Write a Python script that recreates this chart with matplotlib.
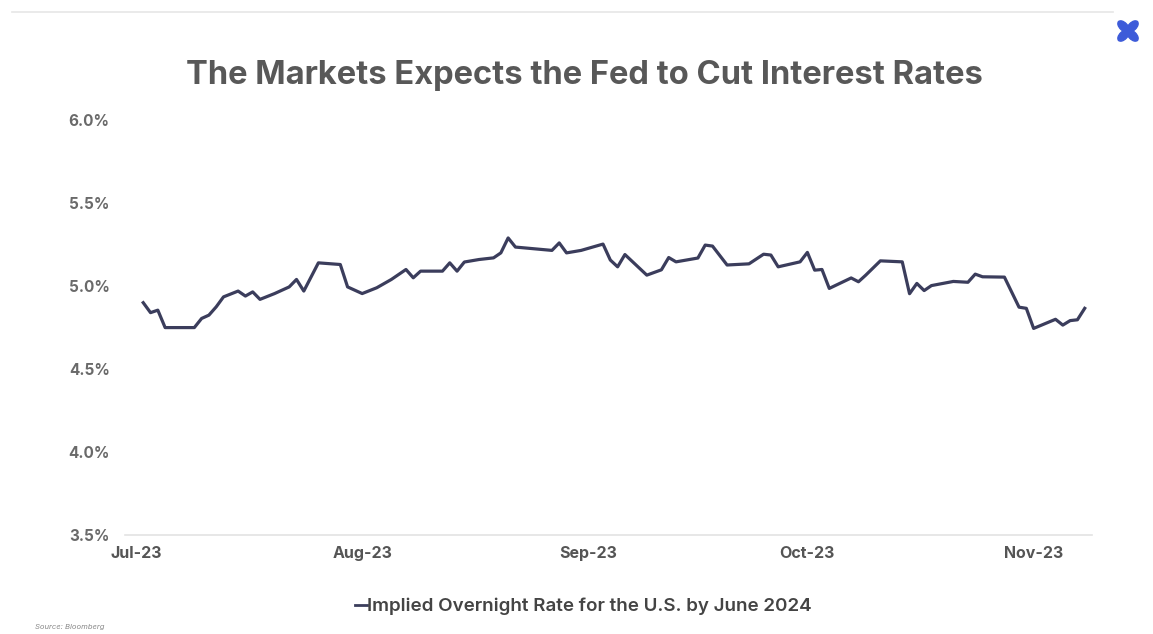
import numpy as np
import pandas as pd
import matplotlib.pyplot as plt
import matplotlib.dates as mdates
from matplotlib.patches import Ellipse
from matplotlib.lines import Line2D

# Implied overnight rate (%)
dates = [
    '2023-07-02', '2023-07-03', '2023-07-04', '2023-07-05', '2023-07-09',
    '2023-07-10', '2023-07-11', '2023-07-12', '2023-07-13', '2023-07-15',
    '2023-07-16', '2023-07-17', '2023-07-18', '2023-07-20', '2023-07-22',
    '2023-07-23', '2023-07-24', '2023-07-26', '2023-07-29', '2023-07-30',
    '2023-08-01', '2023-08-03', '2023-08-05', '2023-08-07', '2023-08-08',
    '2023-08-09', '2023-08-12', '2023-08-13', '2023-08-14', '2023-08-15',
    '2023-08-17', '2023-08-19', '2023-08-20', '2023-08-21', '2023-08-22',
    '2023-08-27', '2023-08-28', '2023-08-29', '2023-08-31', '2023-09-03',
    '2023-09-04', '2023-09-05', '2023-09-06', '2023-09-09', '2023-09-11',
    '2023-09-12', '2023-09-13', '2023-09-16', '2023-09-17', '2023-09-18',
    '2023-09-20', '2023-09-23', '2023-09-25', '2023-09-26', '2023-09-27',
    '2023-09-30', '2023-10-01', '2023-10-02', '2023-10-03', '2023-10-04',
    '2023-10-07', '2023-10-08', '2023-10-09', '2023-10-11', '2023-10-14',
    '2023-10-15', '2023-10-16', '2023-10-17', '2023-10-18', '2023-10-21',
    '2023-10-23', '2023-10-24', '2023-10-25', '2023-10-28', '2023-10-30',
    '2023-10-31', '2023-11-01', '2023-11-04', '2023-11-05', '2023-11-06',
    '2023-11-07', '2023-11-08',
]
rates = [
    4.90, 4.84, 4.855, 4.75, 4.75,
    4.805, 4.825, 4.875, 4.935, 4.97,
    4.94, 4.965, 4.92, 4.955, 4.995,
    5.04, 4.97, 5.14, 5.13, 4.995,
    4.955, 4.99, 5.04, 5.10, 5.05,
    5.09, 5.09, 5.14, 5.09, 5.145,
    5.16, 5.17, 5.20, 5.29, 5.235,
    5.215, 5.26, 5.20, 5.215, 5.253,
    5.157, 5.116, 5.19, 5.066, 5.098,
    5.172, 5.146, 5.169, 5.247, 5.241,
    5.127, 5.134, 5.192, 5.187, 5.116,
    5.146, 5.203, 5.096, 5.10, 4.986,
    5.049, 5.026, 5.066, 5.152, 5.146,
    4.954, 5.016, 4.973, 5.003, 5.028,
    5.023, 5.072, 5.056, 5.054, 4.873,
    4.866, 4.745, 4.80, 4.765, 4.792,
    4.797, 4.866,
]
y_ticks = [3.5, 4.0, 4.5, 5.0, 5.5, 6.0]
series_name = 'Implied Overnight Rate for the U.S. by June 2024'

plt.rcParams['font.family'] = ['Inter', 'DejaVu Sans']

x = pd.to_datetime(dates)

fig = plt.figure(figsize=(11.53, 6.34), dpi=100)
ax = fig.add_axes([0.1084, 0.156, 0.8387, 0.6546])

line_color = '#3b3d5c'
ax.plot(x, rates, color=line_color, linewidth=2.3, solid_joinstyle='round')

ax.set_ylim(3.5, 6.0)
ax.set_yticks(y_ticks)
ax.set_yticklabels(['{:.1f}%'.format(v) for v in y_ticks])
ax.set_xlim(pd.Timestamp('2023-06-29 12:00'), pd.Timestamp('2023-11-09'))
ax.xaxis.set_major_locator(mdates.MonthLocator())
ax.xaxis.set_major_formatter(mdates.DateFormatter('%b-%y'))

for side in ['top', 'right', 'left']:
    ax.spines[side].set_visible(False)
ax.spines['bottom'].set_color('#e3e3e3')
ax.spines['bottom'].set_linewidth(1.2)
ax.tick_params(axis='both', length=0)
ax.tick_params(axis='y', pad=11, labelsize=11, labelcolor='#6a6a6a')
ax.tick_params(axis='x', pad=8, labelsize=11.5, labelcolor='#555555')
for lbl in ax.get_xticklabels() + ax.get_yticklabels():
    lbl.set_fontweight('bold')

fig.text(0.507, 0.881, 'The Markets Expects the Fed to Cut Interest Rates',
         ha='center', va='center', fontsize=23.5, fontweight='bold', color='#585858')

# legend below the chart
handle = Line2D([], [], color=line_color, linewidth=2)
fig.legend([handle], [series_name], loc='center', bbox_to_anchor=(0.506, 0.043),
           frameon=False, handlelength=0.6, handletextpad=0.0,
           prop={'size': 13.5, 'weight': 'semibold'}, labelcolor='#444444')

fig.text(0.03, 0.008, 'Source: Bloomberg', fontsize=5.5, style='italic', color='#888888')

# thin top rule
fig.add_artist(Line2D([0.01, 0.965], [0.981, 0.981], color='#e6e6e6', linewidth=1.2))

# small blue logo in the corner
logo = fig.add_axes([1115 / 1153, 1 - 44 / 634, 26 / 1153, 26 / 634])
logo.set_xlim(-1, 1)
logo.set_ylim(-1, 1)
logo.axis('off')
for ang in [45, 135, 225, 315]:
    dx = np.cos(np.radians(ang)) * 0.5
    dy = np.sin(np.radians(ang)) * 0.5
    logo.add_patch(Ellipse((dx, dy), 1.05, 0.6, angle=ang, color='#3d5bd9'))

fig.savefig('out.png', dpi=100)
